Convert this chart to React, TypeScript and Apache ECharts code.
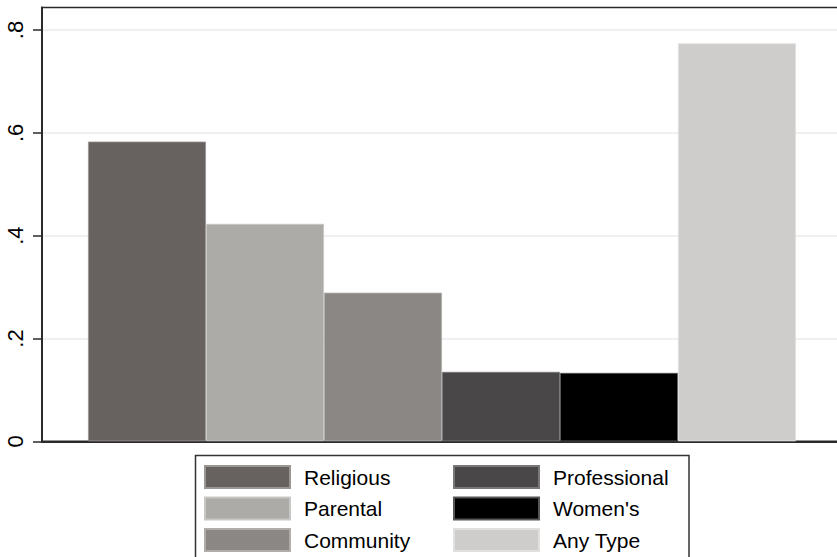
import React, { useEffect, useRef } from "react";
import * as echarts from "echarts";

const seriesNames = ["Religious", "Parental", "Community", "Professional", "Women's", "Any Type"];
const seriesValues = [0.583, 0.423, 0.289, 0.135, 0.133, 0.774];
const seriesColors = ["#67625f", "#adaba8", "#8b8785", "#4a4748", "#000000", "#cfcdcb"];
const borderColors = ["#9a9694", "#c9c7c5", "#b0adab", "#7a7778", "#555555", "#e2e0de"];
const yTicks = [0, 0.2, 0.4, 0.6, 0.8];
const legendCol1 = ["Religious", "Parental", "Community"];
const legendCol2 = ["Professional", "Women's", "Any Type"];

const FONT = "'Liberation Sans', Arial, Helvetica, sans-serif";

export default function App() {
  const ref = useRef<HTMLDivElement>(null);
  useEffect(() => {
    if (!ref.current) return;
    const chart = echarts.init(ref.current, undefined, { renderer: "svg" });
    const legendBase = {
      orient: "vertical" as const,
      top: 465,
      itemWidth: 85,
      itemHeight: 22,
      itemGap: 7.5,
      padding: 0,
      icon: "rect",
      selectedMode: false,
      textStyle: { fontSize: 21, color: "#000", fontFamily: FONT, padding: [0, 0, 0, 9], lineHeight: 22 },
    };
    chart.setOption({
      animation: false,
      backgroundColor: "#ffffff",
      grid: {
        left: 42,
        top: 7.5,
        width: 800,
        height: 433.8,
        show: true,
        borderColor: "#2a2a2a",
        borderWidth: 1.5,
        backgroundColor: "transparent",
      },
      xAxis: {
        type: "category",
        data: [""],
        axisLine: { show: true, lineStyle: { color: "#2a2a2a", width: 2 } },
        axisTick: { show: false },
        axisLabel: { show: false },
        splitLine: { show: false },
      },
      yAxis: {
        type: "value",
        min: 0,
        max: 0.8438,
        axisLine: { show: true, lineStyle: { color: "#2a2a2a", width: 2 } },
        axisTick: {
          show: true,
          length: 9,
          lineStyle: { color: "#2a2a2a", width: 1.5 },
          customValues: yTicks,
        },
        axisLabel: {
          show: true,
          customValues: yTicks,
          rotate: 90,
          margin: 16,
          fontSize: 22,
          color: "#000",
          fontFamily: FONT,
          formatter: (v: number) => (v === 0 ? "0" : v.toFixed(1).replace(/^0/, "")),
        },
        splitLine: { show: true, lineStyle: { color: "#ebebeb", width: 1.5 } },
      },
      legend: [
        { ...legendBase, left: 204, data: legendCol1 },
        { ...legendBase, left: 453, data: legendCol2 },
      ],
      graphic: [
        {
          type: "rect",
          shape: { x: 195.5, y: 455.5, width: 493.5, height: 140 },
          style: { fill: "none", stroke: "#333", lineWidth: 1.5 },
          silent: true,
        },
      ],
      series: seriesNames.map((name, i) => ({
        name,
        type: "bar",
        data: [seriesValues[i]],
        barWidth: 118,
        barGap: "0%",
        itemStyle: { color: seriesColors[i], borderColor: borderColors[i], borderWidth: 0.8 },
        emphasis: { disabled: true },
      })),
    });
    return () => chart.dispose();
  }, []);
  return (
    <div style={{ position: "fixed", left: 0, top: 0, width: 837, height: 557, overflow: "hidden", background: "#fff" }}>
      <div ref={ref} style={{ width: 850, height: 557 }} />
    </div>
  );
}
